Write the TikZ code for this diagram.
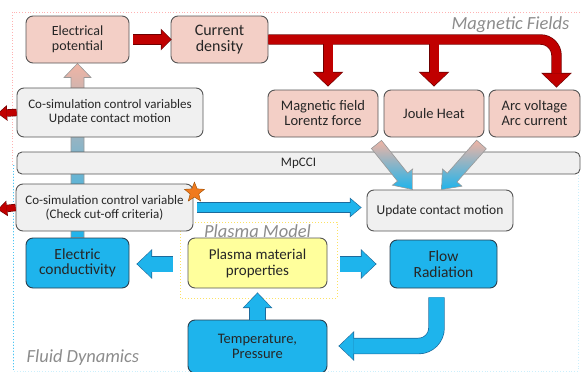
\documentclass[tikz,border=0pt]{standalone}
\usepackage{fontspec}
\setmainfont{Carlito}
\usetikzlibrary{arrows.meta,calc,shapes.geometric,backgrounds}

\definecolor{magfill}{HTML}{F3CFC6}
\definecolor{ctrlfill}{HTML}{F0F0F0}
\definecolor{fluidfill}{HTML}{1EB4EC}
\definecolor{plasmafill}{HTML}{FFFF9C}
\definecolor{boxline}{HTML}{555555}
\definecolor{fluidline}{HTML}{2A3F4E}
\definecolor{boxtext}{HTML}{262626}
\definecolor{arrred}{HTML}{C00000}
\definecolor{arrredline}{HTML}{6E0000}
\definecolor{arrblueline}{HTML}{1C6A9C}
\definecolor{labelgray}{HTML}{8C8C8C}
\definecolor{fadepink}{HTML}{F0B4A4}
\definecolor{starorange}{HTML}{F07A1E}

\tikzset{
  box/.style={draw=boxline, line width=0.9pt, rounded corners=7pt, align=center, text=boxtext, inner sep=2pt},
  magbox/.style={box, fill=magfill, font=\fontsize{14.5}{15}\selectfont},
  ctrlbox/.style={box, fill=ctrlfill, font=\fontsize{13}{14}\selectfont},
  fluidbox/.style={box, draw=fluidline, fill=fluidfill, font=\fontsize{15.5}{15.5}\selectfont},
  plasmabox/.style={box, fill=plasmafill, font=\fontsize{15}{16}\selectfont},
  region/.style={text=labelgray, font=\fontsize{18.5}{20}\selectfont\itshape},
  % block arrows: filled line, dark outline drawn first
  redbus/.style={line width=9pt, draw=arrred, shorten >=1pt,
    -{Triangle[length=13pt,width=28pt,line width=0pt]},
    preaction={draw=arrredline, line width=10.4pt, shorten >=0pt,
      -{Triangle[length=14.6pt,width=30.6pt,line width=0pt]}}},
  redsmall/.style={line width=9.5pt, draw=arrred, shorten >=1pt,
    -{Triangle[length=9pt,width=19pt,line width=0pt]},
    preaction={draw=arrredline, line width=10.9pt, shorten >=0pt,
      -{Triangle[length=10.6pt,width=21.6pt,line width=0pt]}}},
  redtiny/.style={line width=6pt, draw=arrred, shorten >=1pt,
    -{Triangle[length=8pt,width=13pt,line width=0pt]},
    preaction={draw=arrredline, line width=7.4pt, shorten >=0pt,
      -{Triangle[length=9.6pt,width=15.6pt,line width=0pt]}}},
  bluethin/.style={line width=9pt, draw=fluidfill, shorten >=1pt,
    -{Triangle[length=10pt,width=17pt,line width=0pt]},
    preaction={draw=arrblueline, line width=10.4pt, shorten >=0pt,
      -{Triangle[length=11.6pt,width=19.6pt,line width=0pt]}}},
  bluethick/.style={line width=15pt, draw=fluidfill, shorten >=1pt,
    -{Triangle[length=14pt,width=27pt,line width=0pt]},
    preaction={draw=arrblueline, line width=16.4pt, shorten >=0pt,
      -{Triangle[length=15.6pt,width=29.6pt,line width=0pt]}}},
  fadestyle/.style={draw=gray!80, line width=0.6pt, top color=fadepink, middle color=white, bottom color=fluidfill},
}

% shaded block arrow from #1 to #2
\newcommand{\fadearrow}[2]{%
  \coordinate (neck) at ($(#2)!16pt!(#1)$);
  \draw[fadestyle] ($(#1)!6.5pt!90:(#2)$) -- ($(neck)!6.5pt!90:(#2)$) -- ($(neck)!13pt!90:(#2)$) -- (#2)
    -- ($(neck)!13pt!-90:(#2)$) -- ($(neck)!6.5pt!-90:(#2)$) -- ($(#1)!6.5pt!-90:(#2)$) -- cycle;
}

\begin{document}
\begin{tikzpicture}[x=1pt,y=1pt]
  \useasboundingbox (0,0) rectangle (582,-372);

  % magnetic field part
  \node[magbox, font=\fontsize{14}{15}\selectfont, minimum width=103pt, minimum height=47pt] (elecpot) at (77.5,-39.5) {Electrical\\potential};
  \node[magbox, font=\fontsize{16}{16}\selectfont, minimum width=97pt, minimum height=47pt] (curdens) at (219.5,-39.5) {Current\\density};
  \node[magbox, minimum width=110pt, minimum height=47pt] (lorentz) at (323,-113.5) {Magnetic field\\Lorentz force};
  \node[magbox, minimum width=100pt, minimum height=47pt] (joule) at (434,-113.5) {Joule Heat};
  \node[magbox, minimum width=91pt, minimum height=47pt] (arc) at (534.5,-113.5) {Arc voltage\\Arc current};

  % coupling
  \node[ctrlbox, minimum width=186pt, minimum height=49pt] (cosim1) at (110,-112.5) {Co-simulation control variables\\Update contact motion};
  \node[ctrlbox, rounded corners=5pt, minimum width=563pt, minimum height=22pt] (mpcci) at (298.5,-163) {MpCCI};
  \node[ctrlbox, minimum width=177pt, minimum height=47pt] (cosim2) at (104.5,-207.5) {Co-simulation control variable\\(Check cut-off criteria)};
  \node[ctrlbox, font=\fontsize{13.5}{14}\selectfont, minimum width=146pt, minimum height=41pt] (update) at (440,-210.5) {Update contact motion};

  % fluid part
  \node[fluidbox, minimum width=103pt, minimum height=50pt] (elecond) at (77.5,-263) {Electric\\conductivity};
  \node[plasmabox, minimum width=139pt, minimum height=50pt] (plasma) at (257.5,-263) {Plasma material\\properties};
  \node[fluidbox, minimum width=107pt, minimum height=48pt] (flow) at (443.5,-264) {Flow\\Radiation};
  \node[fluidbox, font=\fontsize{14.5}{15.5}\selectfont, minimum width=139pt, minimum height=53pt] (temp) at (257.5,-346.5) {Temperature,\\Pressure};

  \node[region, anchor=base east] (magtitle) at (573,-30) {Magnetic Fields};
  \node[region, anchor=base west] (fluidtitle) at (23,-362) {Fluid Dynamics};
  \node[region, anchor=base] (plasmatitle) at (257.5,-237) {Plasma Model};

  \begin{pgfonlayer}{background}
    \draw[dotted, line width=0.8pt, red!30] (580,-12) -- (12,-12) -- (12,-165);
    \draw[dotted, line width=0.8pt, cyan!20] (13,-165) rectangle (578,-371);
    \draw[dotted, line width=1pt, cyan!70] (13,-165) -- (13,-372);
    \draw[dotted, line width=1pt, yellow!70!orange!60] (180,-222) rectangle (337,-298);
    % vertical bar up to the electrical potential
    \draw[draw=gray!80, line width=0.6pt, top color=fadepink, middle color=gray!30, bottom color=fluidfill]
      let \p1=(elecpot.south), \p2=(elecond.north) in
      (\x1-6.5pt,\y2) -- (\x1-6.5pt,\y1-14pt) -- (\x1-13.5pt,\y1-14pt) -- (\x1,\y1)
      -- (\x1+13.5pt,\y1-14pt) -- (\x1+6.5pt,\y1-14pt) -- (\x1+6.5pt,\y2) -- cycle;
  \end{pgfonlayer}

  % red arrows
  \coordinate (arctip) at ($(arc.north)+(22,2)$);
  \draw[redsmall] ($(elecpot.east)+(4,0)$) -- ($(curdens.west)+(1,0)$);
  \draw[redbus, rounded corners=16pt] (curdens.east) -| (arctip);
  \draw[redbus] ($(curdens.east -| lorentz.north)+(5,-4.5)$) -- ($(lorentz.north)+(5,3)$);
  \draw[redbus] ($(curdens.east -| joule.north)+(0,-4.5)$) -- ($(joule.north)+(0,3)$);
  \coordinate (out1) at ($(cosim1.west)+(-19,-1)$);
  \coordinate (out2) at ($(cosim2.west)+(-18,-2)$);
  \draw[redtiny] (cosim1.west) -- (out1);
  \draw[redtiny] (cosim2.west) -- (out2);

  % shaded arrows to the contact motion
  \coordinate (tail1) at ($(lorentz.south east)+(-2,-7)$);
  \coordinate (head1) at ($(update.north west)+(46,0)$);
  \coordinate (tail2) at ($(joule.south east)+(-3,-7)$);
  \coordinate (head2) at ($(update.north west)+(75,0)$);
  \fadearrow{tail1}{head1}
  \fadearrow{tail2}{head2}

  % blue arrows
  \draw[bluethin] ($(cosim2.east)+(4,0)$) -- ($(cosim2.east -| update.west)+(-5,0)$);
  \draw[bluethick] ($(plasma.west)+(-15,-1)$) -- ($(elecond.east)+(7,-1)$);
  \draw[bluethick] ($(plasma.east)+(13,-1)$) -- ($(plasma.east -| flow.west)+(-13,-1)$);
  \draw[bluethick] (temp.north) -- ($(plasma.south)+(0,-4)$);
  \draw[bluethick, rounded corners=18pt] ($(flow.south)+(-7,-9)$) |- ($(temp.east)+(11,0.5)$);

  \node[star, star points=5, star point ratio=2.3, minimum size=21pt, inner sep=0pt,
    fill=starorange, draw=orange!60!black, line width=0.4pt] (star) at ($(cosim2.north east)+(1,-9)$) {};
\end{tikzpicture}
\end{document}
